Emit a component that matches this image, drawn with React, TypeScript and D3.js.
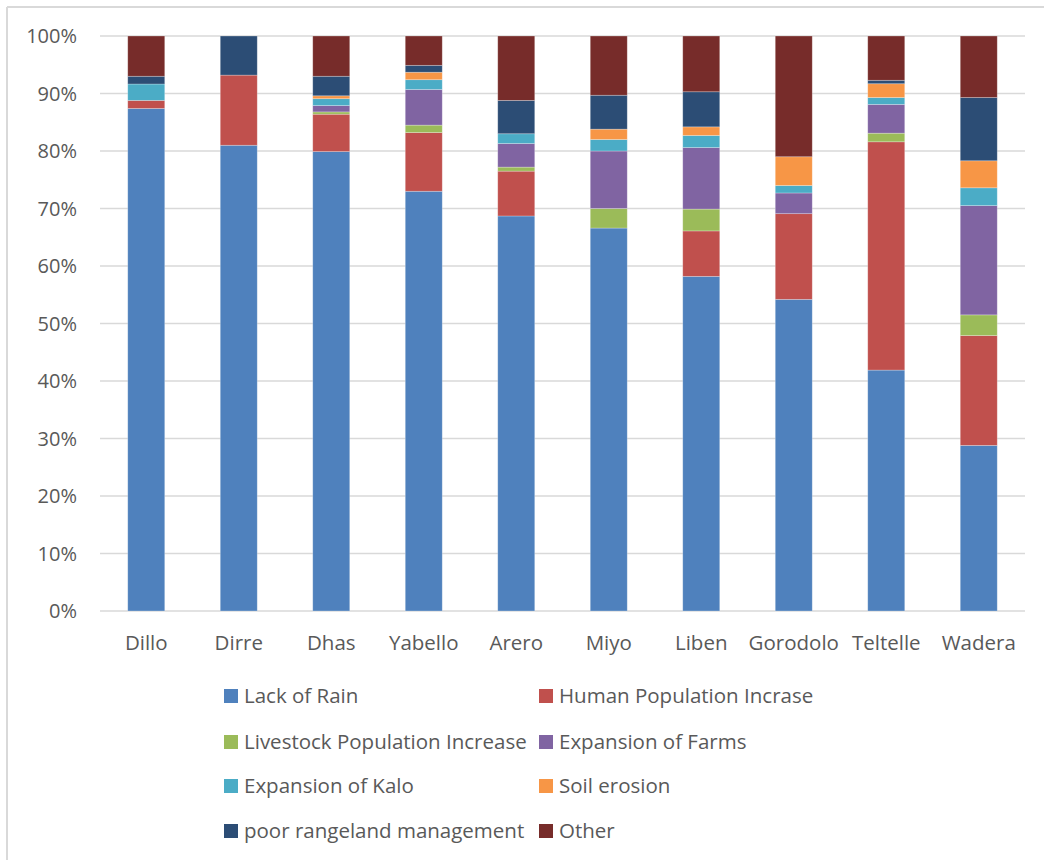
import React from "react";
import * as d3 from "d3";

const categories = ["Dillo", "Dirre", "Dhas", "Yabello", "Arero", "Miyo", "Liben", "Gorodolo", "Teltelle", "Wadera"];
const seriesNames = [
  "Lack of Rain",
  "Human Population Incrase",
  "Livestock Population Increase",
  "Expansion of Farms",
  "Expansion of Kalo",
  "Soil erosion",
  "poor rangeland management",
  "Other",
];
const lackOfRain = [87.4, 81.0, 79.9, 73.0, 68.7, 66.6, 58.2, 54.2, 41.9, 28.8];
const humanPop = [1.4, 12.2, 6.5, 10.2, 7.8, 0, 7.9, 14.9, 39.7, 19.1];
const livestockPop = [0, 0, 0.4, 1.3, 0.7, 3.4, 3.8, 0, 1.5, 3.6];
const farms = [0, 0, 1.1, 6.2, 4.1, 10.0, 10.7, 3.6, 5.0, 19.0];
const kalo = [2.85, 0, 1.2, 1.7, 1.7, 2.0, 2.1, 1.3, 1.2, 3.1];
const soilErosion = [0, 0, 0.5, 1.3, 0, 1.8, 1.5, 5.0, 2.4, 4.7];
const poorManagement = [1.35, 6.8, 3.4, 1.2, 5.8, 5.9, 6.1, 0, 0.6, 11.0];
const other = [7.0, 0, 7.0, 5.1, 11.2, 10.3, 9.7, 21.0, 7.7, 10.7];
const yTicks = [0, 10, 20, 30, 40, 50, 60, 70, 80, 90, 100];
const colors = ["#4F81BD", "#C0504D", "#9BBB59", "#8064A2", "#4BACC6", "#F79646", "#2C4D75", "#772C2A"];

const seriesValues = [lackOfRain, humanPop, livestockPop, farms, kalo, soilErosion, poorManagement, other];

export default function App() {
  const W = 1044, H = 860;
  const x0 = 100, x1 = 1025, yTop = 36, yBot = 611;
  const font = "'Open Sans', sans-serif";
  const textColor = "#595959";

  const rows = categories.map((c, i) => {
    const r: any = { cat: c };
    seriesNames.forEach((s, k) => (r[s] = seriesValues[k][i]));
    return r;
  });
  const stacked = d3.stack<any>().keys(seriesNames).offset(d3.stackOffsetExpand)(rows);

  const x = d3.scaleBand().domain(categories).range([x0, x1]).paddingInner(0.6).paddingOuter(0.3);
  const y = d3.scaleLinear().domain([0, 1]).range([yBot, yTop]);

  const legendCols = [224, 539];
  const legendRows = [696, 742, 786, 831];

  return (
    <svg width={W} height={H} style={{ position: "absolute", left: 0, top: 0, display: "block" }}>
      <rect x={0} y={0} width={W} height={H} fill="#fff" />
      <line x1={7} y1={7} x2={W} y2={7} stroke="#d9d9d9" strokeWidth={2} />
      <line x1={7} y1={7} x2={7} y2={H} stroke="#d9d9d9" strokeWidth={2} />
      {yTicks.map((t) => (
        <g key={t}>
          <line x1={x0} x2={x1} y1={y(t / 100)} y2={y(t / 100)} stroke="#d9d9d9" strokeWidth={1.5} />
          <text x={77} y={y(t / 100)} dy="0.35em" textAnchor="end" fontFamily={font} fontSize={20} fill={textColor}>
            {t}%
          </text>
        </g>
      ))}
      {stacked.map((s, k) => (
        <g key={s.key} fill={colors[k]}>
          {s.map((d, i) =>
            d[1] - d[0] > 0 ? (
              <rect
                key={i}
                x={x(categories[i])!}
                width={x.bandwidth()}
                y={y(d[1])}
                height={y(d[0]) - y(d[1])}
                stroke="#ffffff"
                strokeOpacity={0.35}
                strokeWidth={0.75}
              />
            ) : null
          )}
        </g>
      ))}
      {categories.map((c) => (
        <text key={c} x={x(c)! + x.bandwidth() / 2} y={643} dy="0.35em" textAnchor="middle" fontFamily={font} fontSize={20.5} fill={textColor}>
          {c}
        </text>
      ))}
      {seriesNames.map((s, k) => {
        const cx = legendCols[k % 2];
        const cy = legendRows[Math.floor(k / 2)];
        return (
          <g key={s}>
            <rect x={cx} y={cy - 7} width={14} height={14} fill={colors[k]} />
            <text x={cx + 20} y={cy} dy="0.35em" fontFamily={font} fontSize={20.5} fill={textColor}>
              {s}
            </text>
          </g>
        );
      })}
    </svg>
  );
}
